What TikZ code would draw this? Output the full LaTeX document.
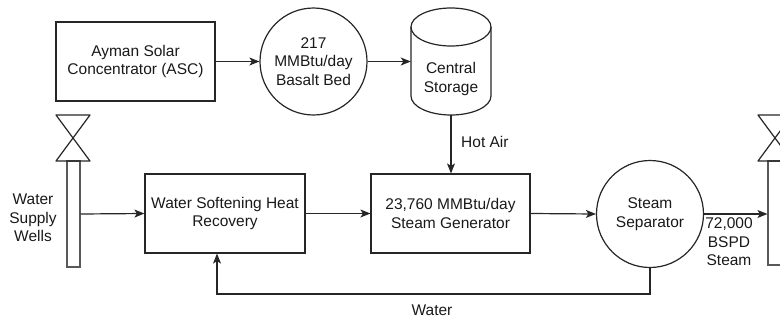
\documentclass[tikz,border=0pt]{standalone}
\usepackage{fontspec}
\setmainfont{Liberation Sans}
\usetikzlibrary{arrows.meta}
\begin{document}
\begin{tikzpicture}[x=1pt,y=-1pt,
  every node/.style={font=\fontsize{15.5}{18.6}\selectfont, align=center, inner sep=1pt, text=black!90},
  conn/.style={line width=1.2pt, draw=black!85, -{Stealth[length=10pt,width=8pt,inset=2.5pt]}},
  plain/.style={line width=1.2pt, draw=black!85},
  boxnode/.style={draw=black!85, line width=1.2pt, rectangle, minimum width=159pt, minimum height=79pt},
  circnode/.style={draw=black!85, line width=1.2pt, circle, minimum size=107pt},
  pipe/.style={draw=black!65, line width=1.2pt, rectangle, minimum width=13pt, inner sep=0pt},
  valve/.style={draw=black!85, line width=1.2pt, line join=round},
  lbl/.style={inner sep=0pt}]
\useasboundingbox (0,0) rectangle (780,322);
\clip (0,0) rectangle (780,322);

% top row
\node[boxnode] (asc) at (135.5,61.5) {Ayman Solar\\Concentrator (ASC)};
\node[circnode] (basalt) at (313.5,61.5) {217\\MMBtu/day\\Basalt Bed};
\node[minimum width=80pt, minimum height=107pt, inner sep=0pt] (cs) at (451,61.5) {};
\draw[plain] (451,27) ellipse [x radius=40, y radius=19];
\draw[plain] (411,27) -- (411,96) arc[start angle=180, end angle=0, x radius=40, y radius=19] -- (491,27);
\node[lbl] (cstext) at (451,79) {Central\\Storage};

% middle row
\node[pipe, minimum height=106pt] (wellL) at (73.5,214) {};
\draw[valve] (56,115) -- (90,115) -- (56,161) -- (90,161) -- cycle;
\node[lbl] (wellLtext) at (33,218) {Water\\Supply\\Wells};
\node[boxnode, minimum width=160pt, inner sep=0pt] (wshr) at (225,213.5) {Water Softening Heat\\Recovery};
\node[boxnode] (gen) at (450.5,213.5) {23,760 MMBtu/day\\Steam Generator};
\node[circnode] (sep) at (650,214) {Steam\\Separator};
\node[pipe, minimum height=104pt] (wellR) at (774.5,213) {};
\draw[valve] (758,115) -- (792,115) -- (758,161) -- (792,161) -- cycle;
\node[lbl] (steamtext) at (729,242) {72,000\\BSPD\\Steam};

% connectors
\draw[conn] (asc.east) -- (basalt.west);
\draw[conn] (basalt.east) -- (cs.west |- basalt.east);
\draw[conn] (cs.south) -- (cs.south |- gen.north);
\node[lbl, anchor=west] (hotair) at (461,142) {Hot Air};
\draw[conn] (wellL.east) -- (wshr.west);
\draw[conn] (wshr.east) -- (gen.west);
\draw[conn] (gen.east) -- (sep.west);
\draw[conn] (sep.east) -- (sep.east -| wellR.west);
\coordinate (wl) at (217,294);
\draw[conn] (sep.south) |- (wl) -- (wl |- wshr.south);
\node[lbl] (watertext) at (432,310) {Water};
\end{tikzpicture}
\end{document}
